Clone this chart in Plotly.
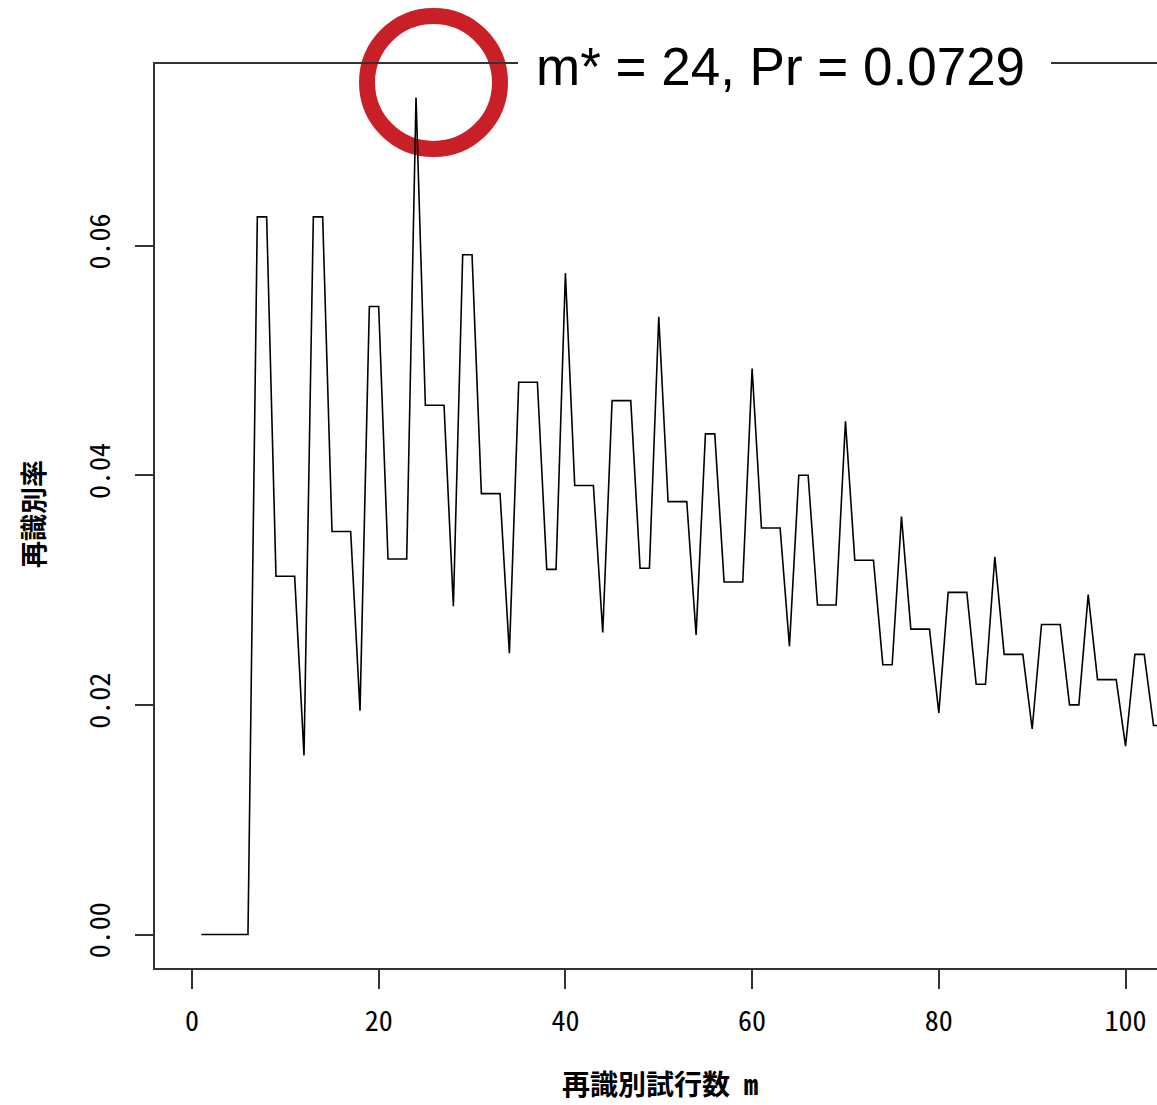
import plotly.graph_objects as go

# ---- data ----
m_values = list(range(1, 105))
rates = [
    0.0, 0.0, 0.0, 0.0, 0.0, 0.0,            # 1-6
    0.0625, 0.0625,                          # 7-8
    0.0312, 0.0312, 0.0312,                  # 9-11
    0.0156,                                  # 12
    0.0625, 0.0625,                          # 13-14
    0.0351, 0.0351, 0.0351,                  # 15-17
    0.0195,                                  # 18
    0.0547, 0.0547,                          # 19-20
    0.0327, 0.0327, 0.0327,                  # 21-23
    0.0729,                                  # 24
    0.0461, 0.0461, 0.0461,                  # 25-27
    0.0286,                                  # 28
    0.0592, 0.0592,                          # 29-30
    0.0384, 0.0384, 0.0384,                  # 31-33
    0.0245,                                  # 34
    0.0481, 0.0481, 0.0481,                  # 35-37
    0.0318, 0.0318,                          # 38-39
    0.0576,                                  # 40
    0.0391, 0.0391, 0.0391,                  # 41-43
    0.0263,                                  # 44
    0.0465, 0.0465, 0.0465,                  # 45-47
    0.0319, 0.0319,                          # 48-49
    0.0538,                                  # 50
    0.0377, 0.0377, 0.0377,                  # 51-53
    0.0261,                                  # 54
    0.0436, 0.0436,                          # 55-56
    0.0307, 0.0307, 0.0307,                  # 57-59
    0.0493,                                  # 60
    0.0354, 0.0354, 0.0354,                  # 61-63
    0.0251,                                  # 64
    0.0400, 0.0400,                          # 65-66
    0.0287, 0.0287, 0.0287,                  # 67-69
    0.0447,                                  # 70
    0.0326, 0.0326, 0.0326,                  # 71-73
    0.0235, 0.0235,                          # 74-75
    0.0364,                                  # 76
    0.0266, 0.0266, 0.0266,                  # 77-79
    0.0193,                                  # 80
    0.0298, 0.0298, 0.0298,                  # 81-83
    0.0218, 0.0218,                          # 84-85
    0.0329,                                  # 86
    0.0244, 0.0244, 0.0244,                  # 87-89
    0.0179,                                  # 90
    0.0270, 0.0270, 0.0270,                  # 91-93
    0.0200, 0.0200,                          # 94-95
    0.0296,                                  # 96
    0.0222, 0.0222, 0.0222,                  # 97-99
    0.0164,                                  # 100
    0.0244, 0.0244,                          # 101-102
    0.0182, 0.0182,                          # 103-104
]
x_ticks = [0, 20, 40, 60, 80, 100]
y_ticks = [0.00, 0.02, 0.04, 0.06]
best_m = 24
best_pr = 0.0729
x_title = "再識別試行数 m"
y_title = "再識別率"
note_text = f"m* = {best_m}, Pr = {best_pr}"

mono = "Noto Sans Mono CJK JP, Noto Sans CJK JP, DejaVu Sans Mono, monospace"

fig = go.Figure()
fig.add_trace(go.Scatter(
    x=m_values, y=rates, mode="lines",
    line=dict(color="black", width=1.6),
    hoverinfo="skip", showlegend=False,
))

W, H = 1157, 1105
L, R, T, B = 155, 0, 64, 137

fig.update_layout(
    width=W, height=H,
    margin=dict(l=L, r=R, t=T, b=B, pad=0),
    paper_bgcolor="white", plot_bgcolor="white",
    showlegend=False,
)
fig.update_xaxes(
    range=[-3.96, 103.37],
    tickmode="array", tickvals=x_ticks, ticktext=[str(v) for v in x_ticks],
    showgrid=False, zeroline=False,
    showline=True, linecolor="#333333", linewidth=1.5, mirror=True,
    ticks="outside", ticklen=19, tickwidth=1.5, tickcolor="#333333",
    tickfont=dict(family=mono, size=28, color="black"),
    ticklabelstandoff=9,
)
fig.update_yaxes(
    range=[-0.002916, 0.075816],
    tickmode="array", tickvals=y_ticks, ticktext=[f"{v:.2f}" for v in y_ticks],
    tickangle=-90,
    showgrid=False, zeroline=False,
    showline=True, linecolor="#333333", linewidth=1.5, mirror=False,
    ticks="outside", ticklen=18, tickwidth=1.5, tickcolor="#333333",
    tickfont=dict(family=mono, size=28, color="black"),
    ticklabelstandoff=14,
)

pw = W - L - R
ph = H - T - B

def px_x(p):
    return (p - L) / pw

def px_y(p):
    return (H - B - p) / ph

# red highlight ring around the maximum
cx, cy, rr = 433.5, 82.5, 66.5
fig.add_shape(
    type="circle", xref="paper", yref="paper",
    x0=px_x(cx - rr), x1=px_x(cx + rr),
    y0=px_y(cy + rr), y1=px_y(cy - rr),
    line=dict(color="#C91F26", width=16),
    layer="below",
)

# white gap in the top frame line behind the note
fig.add_shape(
    type="rect", xref="paper", yref="paper",
    x0=px_x(518), x1=px_x(1051), y0=px_y(70), y1=px_y(58),
    line=dict(width=0), fillcolor="white", layer="above",
)
# annotation text
fig.add_annotation(
    xref="paper", yref="paper",
    x=px_x(535), y=px_y(67), xanchor="left", yanchor="middle",
    text=note_text, showarrow=False,
    font=dict(family="Liberation Sans, Arial, sans-serif", size=53, color="black"),
    bgcolor="rgba(0,0,0,0)", borderpad=0,
)

# axis titles
fig.add_annotation(
    xref="paper", yref="paper", x=px_x(660), y=px_y(1105),
    xanchor="center", yanchor="bottom", showarrow=False,
    text=f"<b>{x_title}</b>",
    font=dict(family=mono, size=28, color="black"),
)
fig.add_annotation(
    xref="paper", yref="paper", x=px_x(32), y=px_y(514),
    xanchor="center", yanchor="middle", showarrow=False, textangle=-90,
    text=f"<b>{y_title}</b>",
    font=dict(family=mono, size=27, color="black"),
)

fig.write_html("out.html")
